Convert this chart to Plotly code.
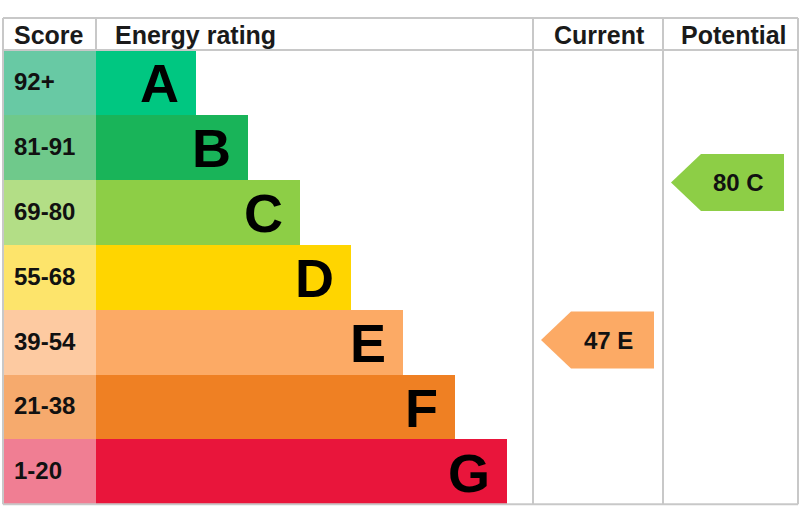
import plotly.graph_objects as go

# ---------------- data ----------------
bands = ["A", "B", "C", "D", "E", "F", "G"]
score_ranges = ["92+", "81-91", "69-80", "55-68", "39-54", "21-38", "1-20"]
band_min = [92, 81, 69, 55, 39, 21, 1]
band_max = [100, 91, 80, 68, 54, 38, 20]
header_labels = ["Score", "Energy rating", "Current", "Potential"]
current_score = 47
current_band = "E"
potential_score = 80
potential_band = "C"

# ---------------- styles ----------------
bar_colors = ["#00c781", "#19b459", "#8dce46", "#ffd500", "#fcaa65", "#ef8023", "#e9153b"]
score_colors = ["#68c9a4", "#6fc98b", "#b3de86", "#fde46b", "#fdcaa1", "#f6aa6d", "#f07e93"]
grid_color = "#c8c8c8"
FONT = "Arial, 'Liberation Sans', sans-serif"

# ---------------- layout geometry (pixel-like axis units) ----------------
W, H = 800, 523
X_LEFT, X_SCORE, X_CUR, X_POT, X_RIGHT = 3, 96, 533, 663, 798
Y_TOP, Y_HEAD, ROW_H = 18, 50, 64.9
Y_BOT = Y_HEAD + ROW_H * len(bands)
BAR_LEN0, BAR_STEP = 100, 51.8
ARROW_H, ARROW_TIP, ARROW_W, ARROW_INSET = 57, 30, 113, 8

n = len(bands)
row_centers = [Y_HEAD + ROW_H * (i + 0.5) for i in range(n)]
bar_lengths = [BAR_LEN0 + BAR_STEP * i for i in range(n)]

fig = go.Figure()

# score column cells
fig.add_trace(go.Bar(
    orientation="h", y=row_centers, x=[X_SCORE - X_LEFT] * n, base=X_LEFT,
    width=ROW_H, marker=dict(color=score_colors, line=dict(width=0)),
    hoverinfo="skip", showlegend=False,
))
# rating bars
fig.add_trace(go.Bar(
    orientation="h", y=row_centers, x=bar_lengths, base=X_SCORE,
    width=ROW_H, marker=dict(color=bar_colors, line=dict(width=0)),
    hoverinfo="skip", showlegend=False,
))

annotations = []
# header labels
header_x = [X_LEFT + 9, X_SCORE + 17, (X_CUR + X_POT) / 2 + 1, (X_POT + X_RIGHT) / 2 + 3]
header_anchor = ["left", "left", "center", "center"]
for lbl, hx, anc in zip(header_labels, header_x, header_anchor):
    annotations.append(dict(x=hx, y=(Y_TOP + Y_HEAD) / 2 + 1, text=f"<b>{lbl}</b>",
                            xanchor=anc, yanchor="middle", showarrow=False,
                            font=dict(family=FONT, size=25, color="#1a1a1a")))

# score labels and letters
for i in range(n):
    annotations.append(dict(x=X_LEFT + 9, y=row_centers[i] - 1, text=f"<b>{score_ranges[i]}</b>",
                            xanchor="left", yanchor="middle", showarrow=False,
                            font=dict(family=FONT, size=24, color="#111111")))
    annotations.append(dict(x=X_SCORE + bar_lengths[i] - 15, y=row_centers[i] + 1,
                            text=f"<b>{bands[i]}</b>", xanchor="right", yanchor="middle",
                            showarrow=False, font=dict(family=FONT, size=54, color="#000000")))

shapes = []
def line(x0, y0, x1, y1):
    shapes.append(dict(type="line", xref="x", yref="y", x0=x0, y0=y0, x1=x1, y1=y1,
                       line=dict(color=grid_color, width=2), layer="above"))

line(X_LEFT, Y_TOP, X_RIGHT, Y_TOP)
line(X_LEFT, Y_HEAD, X_RIGHT, Y_HEAD)
line(X_LEFT, Y_BOT, X_RIGHT, Y_BOT)
for xv in (X_LEFT, X_CUR, X_POT, X_RIGHT):
    line(xv, Y_TOP, xv, Y_BOT)
line(X_SCORE, Y_TOP, X_SCORE, Y_HEAD)


def score_to_y(score, band):
    i = bands.index(band)
    frac = (score - band_min[i] + 0.5) / (band_max[i] - band_min[i] + 1)
    return Y_HEAD + ROW_H * i + ROW_H * (1 - frac)


def add_arrow(score, band, col_left):
    yc = score_to_y(score, band)
    tip = col_left + ARROW_INSET
    notch = tip + ARROW_TIP
    right = tip + ARROW_W
    h2 = ARROW_H / 2
    path = (f"M {tip},{yc} L {notch},{yc - h2} L {right},{yc - h2} "
            f"L {right},{yc + h2} L {notch},{yc + h2} Z")
    shapes.append(dict(type="path", xref="x", yref="y", path=path,
                       fillcolor=bar_colors[bands.index(band)], line=dict(width=0), layer="above"))
    annotations.append(dict(x=(notch + right) / 2 - 4, y=yc, text=f"<b>{score} {band}</b>",
                            xanchor="center", yanchor="middle", showarrow=False,
                            font=dict(family=FONT, size=24, color="#111111")))


add_arrow(current_score, current_band, X_CUR)
add_arrow(potential_score, potential_band, X_POT)

fig.update_layout(
    width=W, height=H, margin=dict(l=0, r=0, t=0, b=0),
    paper_bgcolor="white", plot_bgcolor="white",
    barmode="overlay", bargap=0,
    xaxis=dict(range=[0, W], visible=False, fixedrange=True),
    yaxis=dict(range=[H, 0], visible=False, fixedrange=True),
    shapes=shapes, annotations=annotations,
)

fig.write_html("out.html", config={"displayModeBar": False},
               post_script="document.body.style.margin='0';document.body.style.overflow='hidden';")
